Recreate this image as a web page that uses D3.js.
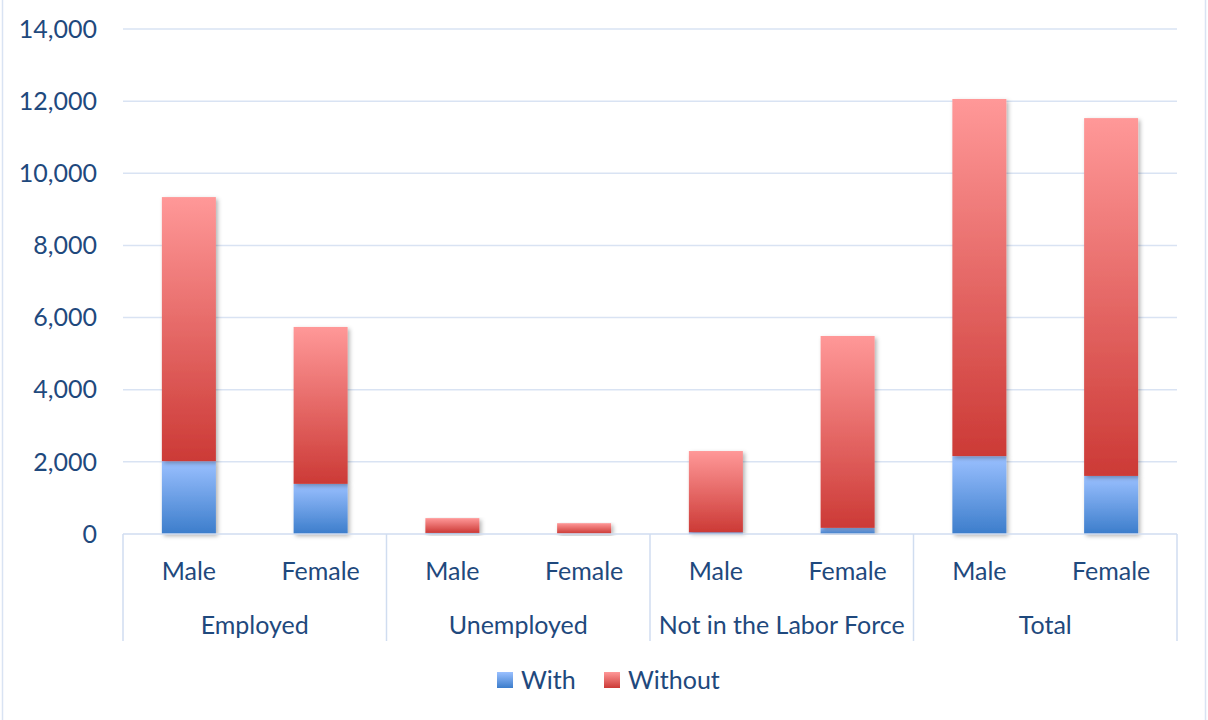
<!DOCTYPE html>
<meta charset="utf-8">
<style>
body { margin: 0; background: #fff; }
svg text { font-family: Lato, "Open Sans", sans-serif; fill: #1F497D; }
</style>
<body>
<div id="chart"></div>
<script src="https://d3js.org/d3.v7.min.js"></script>
<script>

// data
var groups = ["Employed", "Unemployed", "Not in the Labor Force", "Total"];
var sexes = ["Male", "Female"];
var withVals = [2020, 1390, 30, 10, 50, 170, 2160, 1610];
var withoutVals = [7320, 4350, 410, 290, 2250, 5320, 9900, 9920];
var yTicks = [0, 2000, 4000, 6000, 8000, 10000, 12000, 14000];
var seriesNames = ["With", "Without"];

var width = 1208, height = 720;
var plotLeft = 123, plotRight = 1177, plotTop = 29, plotBottom = 534;
var fontSize = "25px";

var rows = [];
groups.forEach(function(g, gi) {
  sexes.forEach(function(s, si) {
    var i = gi * 2 + si;
    rows.push({ key: g + "|" + s, group: g, sex: s, With: withVals[i], Without: withoutVals[i] });
  });
});

var svg = d3.select("#chart").append("svg")
    .attr("width", width)
    .attr("height", height);

var defs = svg.append("defs");

// gradients like the office fill
var gradBlue = defs.append("linearGradient").attr("id", "gWith")
    .attr("x1", 0).attr("y1", 0).attr("x2", 0).attr("y2", 1);
gradBlue.append("stop").attr("offset", "0%").attr("stop-color", "#9AC0FF");
gradBlue.append("stop").attr("offset", "100%").attr("stop-color", "#3C7DCB");

var gradRed = defs.append("linearGradient").attr("id", "gWithout")
    .attr("x1", 0).attr("y1", 0).attr("x2", 0).attr("y2", 1);
gradRed.append("stop").attr("offset", "0%").attr("stop-color", "#FF9898");
gradRed.append("stop").attr("offset", "100%").attr("stop-color", "#CC3A36");

var shadow = defs.append("filter").attr("id", "shadow")
    .attr("x", "-20%").attr("y", "-5%").attr("width", "150%").attr("height", "120%");
shadow.append("feDropShadow")
    .attr("dx", 2).attr("dy", 2).attr("stdDeviation", 2)
    .attr("flood-color", "#000").attr("flood-opacity", 0.3);

// outer frame
svg.append("rect")
    .attr("x", 2.5).attr("y", -5)
    .attr("width", 1203).attr("height", 735)
    .attr("fill", "none")
    .attr("stroke", "#D9E3F3")
    .attr("stroke-width", 1.5);

var x = d3.scaleBand()
    .domain(rows.map(function(d) { return d.key; }))
    .range([plotLeft, plotRight])
    .paddingInner(0.59)
    .paddingOuter(0.295);

var y = d3.scaleLinear()
    .domain([0, 14000])
    .range([plotBottom, plotTop]);

// gridlines
svg.append("g")
  .selectAll("line")
  .data(yTicks.slice(1))
  .enter().append("line")
    .attr("x1", plotLeft).attr("x2", plotRight)
    .attr("y1", function(d) { return y(d); })
    .attr("y2", function(d) { return y(d); })
    .attr("stroke", "#D9E3F3")
    .attr("stroke-width", 1.5);

// y tick labels
svg.append("g")
  .selectAll("text")
  .data(yTicks)
  .enter().append("text")
    .attr("x", 97)
    .attr("y", function(d) { return y(d); })
    .attr("dy", "0.35em")
    .attr("text-anchor", "end")
    .style("font-size", fontSize)
    .text(function(d) { return d3.format(",")(d); });

// stacked bars
var stack = d3.stack().keys(seriesNames);
var series = stack(rows);

svg.append("g")
  .selectAll("g")
  .data(series)
  .enter().append("g")
    .attr("fill", function(d) { return "url(#g" + d.key + ")"; })
  .selectAll("rect")
  .data(function(d) { return d; })
  .enter().append("rect")
    .attr("x", function(d) { return x(d.data.key); })
    .attr("y", function(d) { return y(d[1]); })
    .attr("width", x.bandwidth())
    .attr("height", function(d) { return y(d[0]) - y(d[1]); })
    .attr("filter", "url(#shadow)");

// category axis
var axis = svg.append("g");
axis.append("line")
    .attr("x1", plotLeft).attr("x2", plotRight)
    .attr("y1", plotBottom).attr("y2", plotBottom)
    .attr("stroke", "#D0DDF0")
    .attr("stroke-width", 1.5);

var groupW = (plotRight - plotLeft) / groups.length;
axis.selectAll(".sep")
  .data(d3.range(groups.length + 1))
  .enter().append("line")
    .attr("x1", function(i) { return plotLeft + i * groupW; })
    .attr("x2", function(i) { return plotLeft + i * groupW; })
    .attr("y1", plotBottom).attr("y2", 641)
    .attr("stroke", "#D0DDF0")
    .attr("stroke-width", 1.5);

axis.selectAll(".sub")
  .data(rows)
  .enter().append("text")
    .attr("x", function(d) { return x(d.key) + x.bandwidth() / 2; })
    .attr("y", 580)
    .attr("text-anchor", "middle")
    .style("font-size", fontSize)
    .text(function(d) { return d.sex; });

axis.selectAll(".grp")
  .data(groups)
  .enter().append("text")
    .attr("x", function(d, i) { return plotLeft + (i + 0.5) * groupW; })
    .attr("y", 634)
    .attr("text-anchor", "middle")
    .style("font-size", fontSize)
    .text(function(d) { return d; });

// legend
var legend = svg.append("g");
var legX = [497, 604];
seriesNames.forEach(function(s, i) {
  legend.append("rect")
      .attr("x", legX[i]).attr("y", 672)
      .attr("width", 16).attr("height", 16)
      .attr("fill", "url(#g" + s + ")");
  legend.append("text")
      .attr("x", legX[i] + 24).attr("y", 689)
      .style("font-size", fontSize)
      .text(s);
});

</script>
</body>
